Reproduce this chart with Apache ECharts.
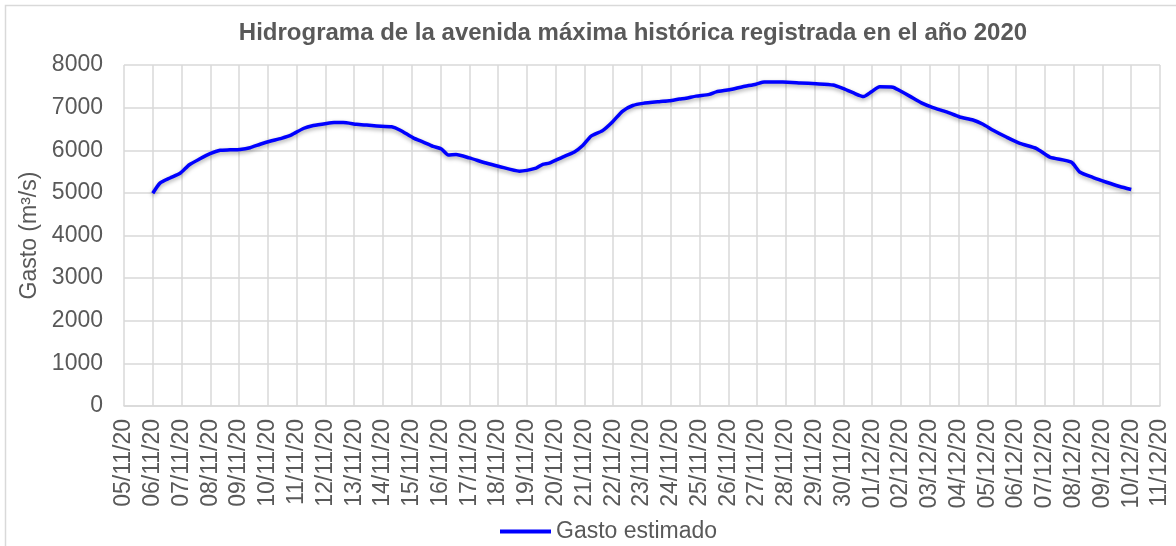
<!DOCTYPE html>
<html>
<head>
<meta charset="utf-8">
<script src="https://cdn.jsdelivr.net/npm/echarts@6/dist/echarts.min.js"></script>
<style>
html,body{margin:0;padding:0;background:#fff;}
#chart{width:1176px;height:546px;}
</style>
</head>
<body>
<div id="chart"></div>
<script>
// date labels, one per day (05/11/20 .. 11/12/20)
var dateLabels = ['05/11/20','06/11/20','07/11/20','08/11/20','09/11/20','10/11/20','11/11/20','12/11/20',
  '13/11/20','14/11/20','15/11/20','16/11/20','17/11/20','18/11/20','19/11/20','20/11/20','21/11/20',
  '22/11/20','23/11/20','24/11/20','25/11/20','26/11/20','27/11/20','28/11/20','29/11/20','30/11/20',
  '01/12/20','02/12/20','03/12/20','04/12/20','05/12/20','06/12/20','07/12/20','08/12/20','09/12/20',
  '10/12/20','11/12/20'];

// time of each reading, in days counted from 05/11/20
var dias = [1.0,1.25,1.6,1.95,2.27,2.64,2.99,3.34,3.68,4.03,4.38,4.73,5.07,5.47,5.82,6.23,6.58,7.04,7.3,7.62,
  8.08,8.43,8.78,9.3,9.6,10.05,10.4,10.74,11.03,11.27,11.54,12.0,12.58,13.04,13.74,14.32,14.55,14.78,
  15.24,15.65,15.94,16.23,16.63,16.98,17.33,17.68,18.03,18.6,18.95,19.3,19.53,19.88,20.34,20.58,21.04,
  21.5,21.96,22.25,22.89,23.5,24.05,24.64,24.98,25.33,25.7,25.97,26.26,26.72,26.95,27.3,27.71,28.11,
  28.58,29.04,29.5,29.85,30.2,30.66,31.13,31.71,32.17,32.92,33.21,33.68,34.14,34.6,35.0];

// gasto estimado (m3/s)
var gasto = [4990,5230,5350,5460,5660,5800,5920,6000,6010,6020,6060,6140,6210,6280,6360,6510,6580,6630,6650,6650,
  6610,6590,6570,6550,6470,6290,6190,6090,6030,5890,5900,5820,5700,5620,5510,5580,5670,5700,
  5840,5960,6110,6330,6460,6670,6920,7050,7100,7140,7160,7200,7220,7270,7310,7370,7420,
  7490,7550,7600,7600,7580,7560,7530,7450,7350,7260,7370,7490,7480,7400,7270,7110,7000,
  6900,6780,6710,6610,6470,6310,6160,6040,5840,5720,5490,5360,5250,5150,5080];

var serie = [];
for (var i = 0; i < dias.length; i++) {
  serie.push([dias[i], gasto[i]]);
}

var gris = '#595959';
var rejilla = '#d9d9d9';

var chart = echarts.init(document.getElementById('chart'));
chart.setOption({
  backgroundColor: '#fff',
  animation: false,
  textStyle: { fontFamily: 'Liberation Sans, Arial, sans-serif' },
  graphic: [{
    type: 'rect',
    shape: { x: 5.5, y: 5.5, width: 1200, height: 600 },
    style: { fill: 'none', stroke: rejilla, lineWidth: 1.5 },
    silent: true
  }],
  title: {
    text: 'Hidrograma de la avenida máxima histórica registrada en el año 2020',
    left: 628,
    top: 16,
    textAlign: 'center',
    textStyle: { color: gris, fontSize: 24, fontWeight: 'bold', fontFamily: 'Liberation Sans, Arial, sans-serif' }
  },
  legend: {
    data: ['Gasto estimado'],
    left: 495,
    top: 515,
    icon: 'rect',
    itemWidth: 51,
    itemHeight: 4,
    itemGap: 5,
    textStyle: { color: gris, fontSize: 23, padding: [0, 0, 0, 0] }
  },
  grid: { left: 124, right: 16, top: 65, bottom: 140, containLabel: false },
  xAxis: {
    type: 'value',
    min: 0,
    max: 36,
    interval: 1,
    axisLine: { show: true, lineStyle: { color: rejilla, width: 1.5 } },
    axisTick: { show: false },
    splitLine: { show: true, lineStyle: { color: rejilla, width: 1.5 } },
    axisLabel: {
      rotate: 90,
      margin: 13,
      color: gris,
      fontSize: 23,
      showMinLabel: true,
      showMaxLabel: true,
      formatter: function (v) { return dateLabels[Math.round(v)] || ''; }
    }
  },
  yAxis: {
    type: 'value',
    min: 0,
    max: 8000,
    interval: 1000,
    name: 'Gasto (m³/s)',
    nameLocation: 'middle',
    nameGap: 80,
    nameTextStyle: { color: gris, fontSize: 23 },
    axisLine: { show: false },
    axisTick: { show: false },
    splitLine: { show: true, lineStyle: { color: rejilla, width: 1.5 } },
    axisLabel: { color: gris, fontSize: 23, margin: 21, formatter: function (v) { return String(v); } }
  },
  series: [{
    name: 'Gasto estimado',
    type: 'line',
    data: serie,
    showSymbol: false,
    symbol: 'none',
    smooth: 0.2,
    itemStyle: { color: '#0000ff' },
    lineStyle: {
      color: '#0000ff',
      width: 3.5,
      shadowColor: 'rgba(0,0,0,0.35)',
      shadowBlur: 4,
      shadowOffsetY: 2
    }
  }]
});
</script>
</body>
</html>
